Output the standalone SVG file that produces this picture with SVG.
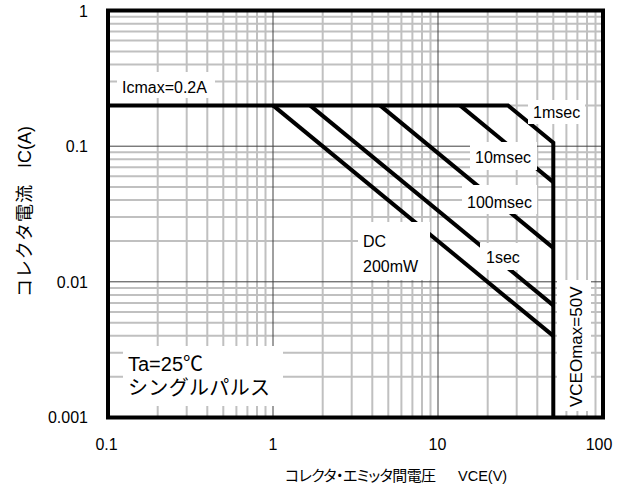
<svg xmlns="http://www.w3.org/2000/svg" width="636" height="495" viewBox="0 0 636 495">
<style>
.minor{stroke:#c0c0c0;stroke-width:2;fill:none}
.major{stroke:#404040;stroke-width:1;fill:none}
.curve{stroke:#000;stroke-width:4;fill:none;stroke-linejoin:miter}
.box{fill:#fff;stroke:none}
.frame{fill:none;stroke:#000;stroke-width:4}
text{font-family:"Liberation Sans","Noto Sans CJK JP",sans-serif;fill:#000}
.lbl{font-size:16px}
.tick{font-size:16px}
.palt{font-feature-settings:"palt" 1}
</style>
<rect width="636" height="495" fill="#fff"/>
<g id="grid">
<path class="minor" d="M157.7 10.5V417.5M186.7 10.5V417.5M207.3 10.5V417.5M223.3 10.5V417.5M236.4 10.5V417.5M247.4 10.5V417.5M257 10.5V417.5M265.5 10.5V417.5M322.7 10.5V417.5M351.7 10.5V417.5M372.3 10.5V417.5M388.3 10.5V417.5M401.4 10.5V417.5M412.4 10.5V417.5M422 10.5V417.5M430.5 10.5V417.5M487.7 10.5V417.5M516.7 10.5V417.5M537.3 10.5V417.5M553.3 10.5V417.5M566.4 10.5V417.5M577.4 10.5V417.5M587 10.5V417.5M595.5 10.5V417.5"/>
<path class="minor" d="M108 16.7H603M108 23.7H603M108 31.6H603M108 40.6H603M108 51.4H603M108 64.5H603M108 81.5H603M108 105.4H603M108 152.3H603M108 159.3H603M108 167.2H603M108 176.2H603M108 187H603M108 200.1H603M108 217.1H603M108 241H603M108 288H603M108 295H603M108 302.9H603M108 311.9H603M108 322.7H603M108 335.8H603M108 352.8H603M108 376.7H603"/>
<path class="major" d="M273 10.5V417.5M438 10.5V417.5M108 146.2H603M108 281.8H603"/>
</g>
<g id="connectors">
<path id="soa" class="curve" d="M108 105.4H508L553.3 142.6V417.5"/>
<path id="c10ms" class="curve" d="M460 105.4L553.3 182.1"/>
<path id="c100ms" class="curve" d="M380 105.4L553.3 247.9"/>
<path id="c1s" class="curve" d="M310 105.4L553.3 305.4"/>
<path id="cdc" class="curve" d="M273 105.4L553.3 335.9"/>
</g>
<g id="label-icmax"><rect class="box" x="117" y="72" width="98" height="26"/><text class="lbl" x="122" y="93">Icmax=0.2A</text></g>
<g id="label-1ms"><rect class="box" x="528" y="100" width="57" height="24"/><text class="lbl" x="533" y="118">1msec</text></g>
<g id="label-10ms"><rect class="box" x="470" y="142" width="67" height="28"/><text class="lbl" x="475" y="163">10msec</text></g>
<g id="label-100ms"><rect class="box" x="462" y="185" width="75" height="29"/><text class="lbl" x="467" y="208">100msec</text></g>
<g id="label-1s"><rect class="box" x="480" y="243" width="46" height="27"/><text class="lbl" x="486" y="263">1sec</text></g>
<g id="label-dc"><rect class="box" x="358" y="222" width="72" height="58"/><text class="lbl" x="363" y="247">DC</text><text class="lbl" x="363" y="272">200mW</text></g>
<g id="label-vceo"><rect class="box" x="557" y="280" width="34" height="131"/><text transform="translate(582,407) rotate(-90)" font-size="17">VCEOmax=50V</text></g>
<g id="label-cond"><rect class="box" x="123" y="346" width="160" height="60"/><text x="128" y="371" font-size="20">Ta=25℃</text><text x="128" y="395" font-size="20" textLength="142">シングルパルス</text></g>
<rect class="frame" x="108" y="10.5" width="495" height="407"/>
<g id="yticks" class="tick" text-anchor="end">
<text x="88" y="16.5">1</text>
<text x="88" y="152">0.1</text>
<text x="88" y="287.5">0.01</text>
<text x="88" y="423">0.001</text>
</g>
<g id="xticks" class="tick" text-anchor="middle">
<text x="106.5" y="450">0.1</text>
<text x="273" y="450">1</text>
<text x="437.5" y="450">10</text>
<text x="599" y="450">100</text>
</g>
<text id="xtitle" y="481" font-size="15"><tspan class="palt" x="285" letter-spacing="-0.6">コレクタ・エミッタ間電圧</tspan> <tspan x="458" font-size="14.5">VCE(V)</tspan></text>
<text id="ytitle" transform="translate(31,297) rotate(-90)" font-size="18"><tspan x="0" textLength="112">コレクタ電流</tspan> <tspan x="129">IC(A)</tspan></text>
</svg>
